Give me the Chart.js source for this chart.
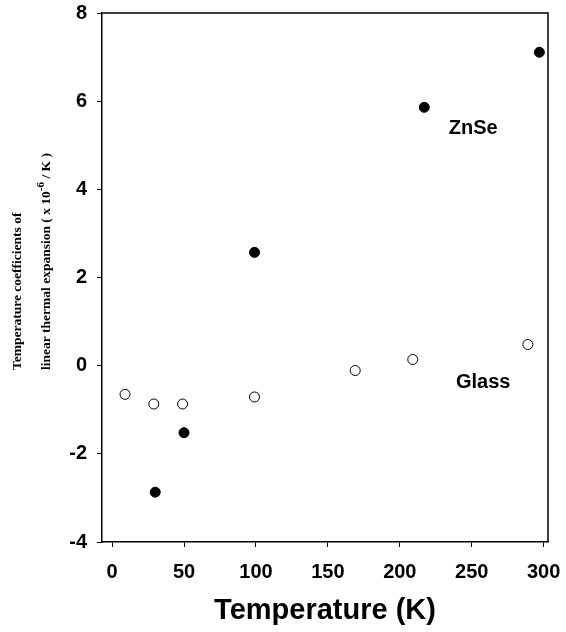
<!doctype html>
<html lang="en">
<head>
    <meta charset="utf-8" />
    <title>Thermal expansion coefficients</title>
    <script src="https://cdn.jsdelivr.net/npm/chart.js@4.4.1/dist/chart.umd.min.js"></script>
    <style>
        html, body { margin: 0; padding: 0; background: #fff; }
        #wrap { width: 566px; height: 632px; }
    </style>
</head>
<body>
    <div id="wrap"><canvas id="myChart"></canvas></div>
    <script>
        // values (temperature in K, coefficient in 1e-6 / K)
        const znseTemps = [30, 50, 99, 217, 297];
        const znseCoefs = [-2.87, -1.52, 2.57, 5.86, 7.11];
        const glassTemps = [9, 29, 49, 99, 169, 209, 289];
        const glassCoefs = [-0.65, -0.87, -0.87, -0.71, -0.11, 0.14, 0.48];
        const xTicks = [0, 50, 100, 150, 200, 250, 300];
        const yTicks = [-4, -2, 0, 2, 4, 6, 8];

        const toPoints = (xs, ys) => xs.map((x, i) => ({ x: x, y: ys[i] }));

        Chart.defaults.color = '#000';

        const serif = '"Liberation Serif", "Times New Roman", serif';

        // frame, series labels and the two-line y title
        const extras = {
            id: 'extras',
            afterDraw(chart) {
                const ctx = chart.ctx;
                const a = chart.chartArea;
                const xs = chart.scales.x, ys = chart.scales.y;
                ctx.save();
                ctx.strokeStyle = '#000';
                ctx.lineWidth = 1.5;
                ctx.beginPath();
                ctx.moveTo(a.left, a.top);
                ctx.lineTo(a.right, a.top);
                ctx.lineTo(a.right, a.bottom);
                ctx.stroke();

                ctx.fillStyle = '#000';
                ctx.font = 'bold 20px "Liberation Sans", Arial, sans-serif';
                ctx.textBaseline = 'middle';
                ctx.textAlign = 'left';
                ctx.fillText('ZnSe', xs.getPixelForValue(234), ys.getPixelForValue(5.39));
                ctx.fillText('Glass', xs.getPixelForValue(239), ys.getPixelForValue(-0.39));

                // y title, rotated
                const base = 370;
                ctx.font = 'bold 13.5px ' + serif;
                ctx.save();
                ctx.translate(18, base);
                ctx.rotate(-Math.PI / 2);
                ctx.fillText('Temperature coefficients of', 0, 0);
                ctx.restore();

                ctx.save();
                ctx.translate(47, base);
                ctx.rotate(-Math.PI / 2);
                let pos = 0;
                const part1 = 'linear thermal expansion ( x 10';
                ctx.fillText(part1, pos, 0);
                pos += ctx.measureText(part1).width;
                ctx.font = 'bold 11px ' + serif;
                ctx.fillText('-6', pos, -6);
                pos += ctx.measureText('-6').width;
                ctx.font = 'bold 13.5px ' + serif;
                ctx.fillText(' / K )', pos, 0);
                ctx.restore();
                ctx.restore();
            }
        };

        const ctx = document.getElementById('myChart').getContext('2d');
        const myChart = new Chart(ctx, {
            type: 'scatter',
            data: {
                datasets: [
                    {
                        label: 'ZnSe',
                        data: toPoints(znseTemps, znseCoefs),
                        pointRadius: 5,
                        pointBackgroundColor: '#000',
                        pointBorderColor: '#000',
                        pointBorderWidth: 1
                    },
                    {
                        label: 'Glass',
                        data: toPoints(glassTemps, glassCoefs),
                        pointRadius: 5,
                        pointBackgroundColor: '#fff',
                        pointBorderColor: '#000',
                        pointBorderWidth: 1
                    }
                ]
            },
            options: {
                responsive: true,
                maintainAspectRatio: false,
                animation: false,
                layout: { padding: { top: 13, right: 18, bottom: 0, left: 0 } },
                plugins: {
                    legend: { display: false },
                    tooltip: { enabled: false }
                },
                scales: {
                    x: {
                        type: 'linear',
                        min: -7,
                        max: 303,
                        afterBuildTicks: scale => { scale.ticks = xTicks.map(v => ({ value: v })); },
                        afterFit: scale => {
                            scale.height = 90;
                            scale.paddingLeft = 0;
                            scale.paddingRight = 0;
                        },
                        grid: { drawOnChartArea: false, drawTicks: true, tickLength: 5, color: '#000', lineWidth: 1 },
                        border: { display: true, color: '#000', width: 1.5 },
                        ticks: {
                            padding: 13,
                            font: { family: '"Liberation Sans", Arial, sans-serif', size: 20, weight: 'bold' }
                        },
                        title: {
                            display: true,
                            text: 'Temperature (K)',
                            padding: { top: 0, bottom: 4 },
                            font: { family: '"Liberation Sans", Arial, sans-serif', size: 29, weight: 'bold' }
                        }
                    },
                    y: {
                        min: -4,
                        max: 8,
                        afterBuildTicks: scale => { scale.ticks = yTicks.map(v => ({ value: v })); },
                        afterFit: scale => {
                            scale.width = 102;
                            scale.paddingTop = 0;
                            scale.paddingBottom = 0;
                        },
                        grid: { drawOnChartArea: false, drawTicks: true, tickLength: 5, color: '#000', lineWidth: 1 },
                        border: { display: true, color: '#000', width: 1.5 },
                        ticks: {
                            padding: 10,
                            font: { family: '"Liberation Sans", Arial, sans-serif', size: 20, weight: 'bold' }
                        }
                    }
                }
            },
            plugins: [extras]
        });
    </script>
</body>
</html>
